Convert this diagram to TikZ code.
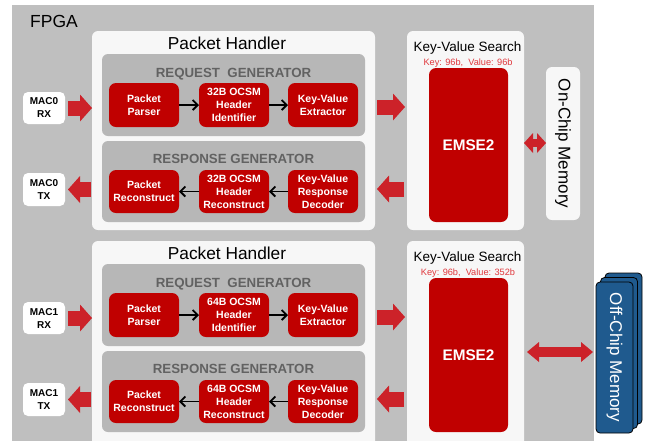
\documentclass[tikz,border=0pt]{standalone}
\usepackage{fontspec}
\setmainfont{Liberation Sans}
\usetikzlibrary{arrows.meta}

\definecolor{fpgagrey}{HTML}{BFBFBF}
\definecolor{panel}{HTML}{F7F7F7}
\definecolor{gengrey}{HTML}{B7B7B7}
\definecolor{blockred}{HTML}{C00000}
\definecolor{arrowred}{HTML}{CC2229}
\definecolor{gentitle}{HTML}{626262}
\definecolor{keyred}{HTML}{E0383D}
\definecolor{memblue}{HTML}{1F5A8E}

\tikzset{
  box/.style={anchor=north west, inner sep=0pt, outer sep=0pt},
  panelbox/.style={box, fill=panel, rounded corners=6pt},
  genbox/.style={box, fill=gengrey, rounded corners=6pt, minimum width=263pt},
  unit/.style={box, fill=blockred, rounded corners=7pt, text=white,
    font=\fontsize{10.5}{13}\selectfont\bfseries, align=center,
    minimum width=70pt, minimum height=44pt},
  macbox/.style={box, fill=white, rounded corners=5pt,
    font=\fontsize{10}{13}\selectfont\bfseries, align=center, minimum width=42pt},
  gentitlefont/.style={text=gentitle, font=\fontsize{13.3}{15}\selectfont\bfseries, inner sep=0pt},
  flow/.style={line width=1.8pt, -{Straight Barb[length=5pt,width=10pt]}},
  bigarrow/.style={draw=arrowred, line width=15pt,
    -{Triangle[length=12pt,width=27pt,line width=0pt]}},
  linkarrow/.style={draw=arrowred, line width=8pt,
    {Triangle[length=9pt,width=20pt,line width=0pt]}-{Triangle[length=9pt,width=20pt,line width=0pt]}},
  widearrow/.style={draw=arrowred, line width=10pt,
    {Triangle[length=12pt,width=20pt,line width=0pt]}-{Triangle[length=12pt,width=20pt,line width=0pt]}},
  memlayer/.style={box, fill=memblue, draw=black, line width=0.8pt, rounded corners=4pt,
    minimum width=37pt, minimum height=151pt},
}

% One packet-handler / key-value-search pair.
% #1 name suffix, #2 vertical offset, #3 MAC number, #4 OCSM width,
% #5 value width, #6 panel height
\newcommand\handlerpair[6]{%
\begin{scope}[shift={(0,#2)}]
  % packet handler
  \node[panelbox, minimum width=283pt, minimum height=#6pt] (ph#1) at (92,31) {};
  \node[anchor=base, inner sep=0pt, font=\fontsize{17.3}{19}\selectfont] (phtitle#1) at (227,49.5) {Packet Handler};
  \node[genbox, minimum height=82pt] (req#1) at (102,54) {};
  \node[gentitlefont, anchor=base] (reqtitle#1) at (233.5,77) {REQUEST~~GENERATOR};
  \node[genbox, minimum height=81pt] (resp#1) at (102,141) {};
  \node[gentitlefont, anchor=base] (resptitle#1) at (233.5,163) {RESPONSE GENERATOR};
  % request row
  \node[unit] (pp#1) at (109,83) {Packet\\Parser};
  \node[unit] (hi#1) at (199,83) {#4 OCSM\\Header\\Identifier};
  \node[unit] (kve#1) at (288,83) {Key-Value\\Extractor};
  % response row
  \node[unit, minimum height=43pt] (pr#1) at (109,170) {Packet\\Reconstruct};
  \node[unit, minimum height=43pt] (hr#1) at (199,170) {#4 OCSM\\Header\\Reconstruct};
  \node[unit, minimum height=43pt] (kvd#1) at (288,170) {Key-Value\\Response\\Decoder};
  \draw[flow] (pp#1) -- (hi#1);
  \draw[flow] (hi#1) -- (kve#1);
  \draw[flow] (kvd#1) -- (hr#1);
  \draw[flow] (hr#1) -- (pr#1);
  % MAC ports
  \node[macbox, minimum height=32pt] (rx#1) at (23,92) {MAC#3\\RX};
  \node[macbox, minimum height=33pt] (tx#1) at (23,173) {MAC#3\\TX};
  \draw[bigarrow, shorten <=3pt] (rx#1.east) -- (rx#1.east -| ph#1.west);
  \draw[bigarrow, shorten <=1pt, shorten >=3pt] (tx#1.east -| ph#1.west) -- (tx#1.east);
  % key-value search
  \node[panelbox, minimum width=117pt, minimum height=#6pt] (kv#1) at (407,31) {};
  \node[anchor=base, inner sep=0pt, font=\fontsize{13.5}{15}\selectfont] (kvtitle#1) at (467.5,51) {Key-Value Search};
  \node[anchor=base, inner sep=0pt, text=keyred, font=\fontsize{9.2}{11}\selectfont] (kvsub#1) at (468,65) {Key: 96b,~~Value: #5b};
  \node[box, fill=blockred, rounded corners=7pt, minimum width=79pt, minimum height=154pt,
    text=white, font=\fontsize{15.3}{17}\selectfont\bfseries] (emse#1) at (429,68) {EMSE2};
  \coordinate (reqlink#1) at (0,107);
  \coordinate (resplink#1) at (0,189);
  \draw[bigarrow, shorten <=2pt, shorten >=2pt] (reqlink#1 -| ph#1.east) -- (reqlink#1 -| kv#1.west);
  \draw[bigarrow, shorten <=3pt, shorten >=2pt] (resplink#1 -| kv#1.west) -- (resplink#1 -| ph#1.east);
\end{scope}}

\begin{document}
\begin{tikzpicture}[x=1pt, y=-1pt]
  \clip (0,0) rectangle (652,440);
  \fill[white] (0,0) rectangle (652,440);
  \node[box, fill=fpgagrey, minimum width=582pt, minimum height=450pt] (fpga) at (12,5) {};
  \node[anchor=base west, inner sep=0pt, font=\fontsize{17.5}{19}\selectfont] (fpgatitle) at (30,27) {FPGA};

  \handlerpair{a}{0}{0}{32B}{96}{199}
  \handlerpair{b}{210}{1}{64B}{352}{215}

  % on-chip memory
  \node[panelbox, minimum width=34pt, minimum height=153pt] (onchip) at (546,67) {};
  \node[rotate=-90, inner sep=0pt, font=\fontsize{17}{19}\selectfont] (onchiplabel) at (onchip.center) {On-Chip Memory};
  \coordinate (onlink) at (0,143);
  \draw[linkarrow] (onlink -| kva.east) -- (onlink -| onchip.west);

  % off-chip memory stack
  \node[memlayer] (offback) at (605,273) {};
  \node[memlayer] (offmid) at (600.5,277.5) {};
  \node[memlayer] (offchip) at (596,282) {};
  \node[rotate=-90, inner sep=0pt, text=white, font=\fontsize{17}{19}\selectfont] (offchiplabel) at (offchip.center) {Off-Chip Memory};
  \coordinate (offlink) at (0,352);
  \draw[widearrow, shorten <=3pt, shorten >=3pt] (offlink -| kvb.east) -- (offlink -| offchip.west);
\end{tikzpicture}
\end{document}
